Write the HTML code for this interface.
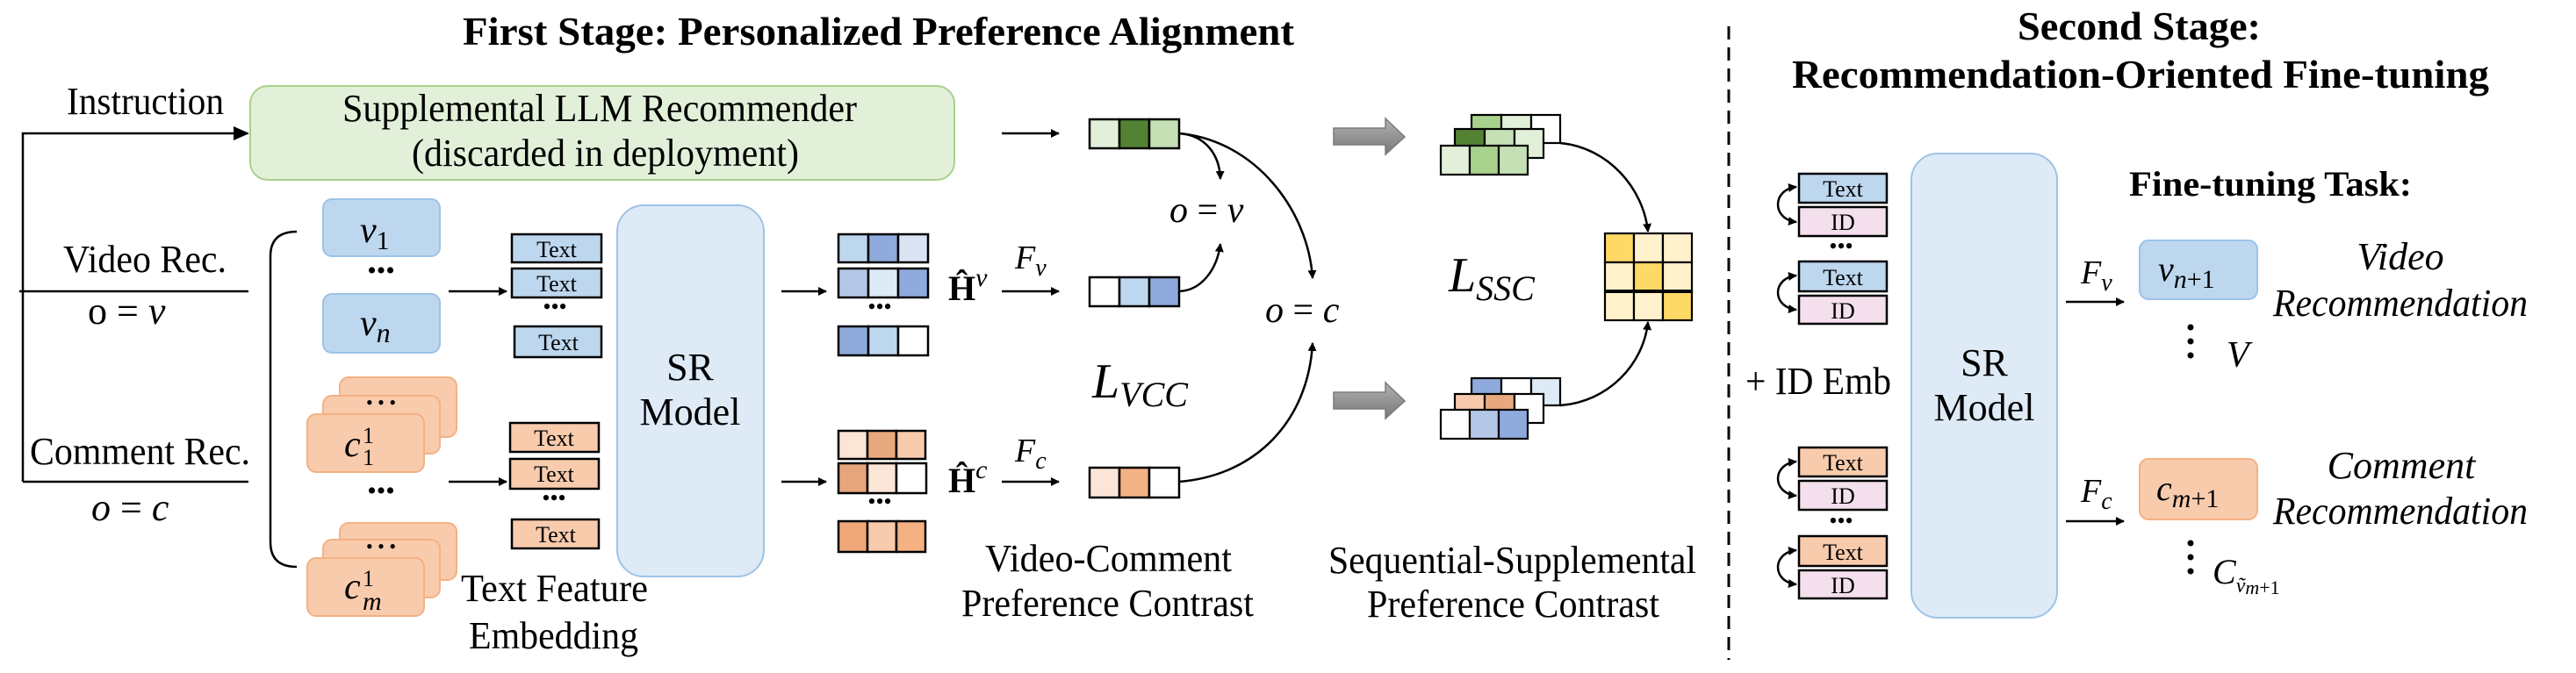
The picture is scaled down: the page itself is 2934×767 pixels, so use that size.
<!DOCTYPE html>
<html><head><meta charset="utf-8"><style>
html,body{margin:0;padding:0;background:#fff;}
svg{display:block;}
svg, text, tspan{font-family:"Liberation Serif","Times New Roman","Noto Serif CJK SC","DejaVu Serif",serif;}
text{fill:#000;}
.it{font-style:italic;}
.b{font-weight:bold;}
</style></head><body>
<svg width="2934" height="767" viewBox="0 0 2934 767" xmlns="http://www.w3.org/2000/svg" font-family="Liberation Serif, Times New Roman, Noto Serif CJK SC, DejaVu Serif, serif">
<defs>
<marker id="ah" markerWidth="10" markerHeight="10" refX="9" refY="5" orient="auto-start-reverse" markerUnits="userSpaceOnUse" viewBox="0 0 10 10">
<path d="M0,0 L10,5 L0,10 z" fill="#000"/></marker>
<marker id="ah2" markerWidth="18" markerHeight="18" refX="16" refY="9" orient="auto-start-reverse" markerUnits="userSpaceOnUse" viewBox="0 0 18 18">
<path d="M0,1 L18,9 L0,17 z" fill="#000"/></marker>
<linearGradient id="gg" x1="0" y1="0" x2="0" y2="1"><stop offset="0" stop-color="#b0b0b0"/><stop offset="1" stop-color="#7a7a7a"/></linearGradient>
</defs>

<text x="527" y="51" class="b" font-size="46" textLength="947" lengthAdjust="spacingAndGlyphs">First Stage: Personalized Preference Alignment</text>
<text x="2298" y="45" class="b" font-size="46" textLength="277" lengthAdjust="spacingAndGlyphs">Second Stage:</text>
<text x="2041" y="100" class="b" font-size="46" textLength="794" lengthAdjust="spacingAndGlyphs">Recommendation-Oriented Fine-tuning</text>

<line x1="1969" y1="30" x2="1969" y2="752" stroke="#000" stroke-width="3" stroke-dasharray="15,9"/>

<text x="76" y="130" font-size="44" textLength="179" lengthAdjust="spacingAndGlyphs">Instruction</text>
<polyline points="26,549 26,152 282,152" fill="none" stroke="#000" stroke-width="2.5" marker-end="url(#ah2)"/>
<text x="72" y="310" font-size="44" textLength="186" lengthAdjust="spacingAndGlyphs">Video Rec.</text>
<line x1="22" y1="332" x2="283" y2="332" stroke="#000" stroke-width="2.5"/>
<text x="100" y="369" font-size="44">o = <tspan class="it">v</tspan></text>
<text x="34" y="529" font-size="44" textLength="251" lengthAdjust="spacingAndGlyphs">Comment Rec.</text>
<line x1="26" y1="549" x2="283" y2="549" stroke="#000" stroke-width="2.5"/>
<text x="104" y="593" font-size="44" class="it">o <tspan font-style="normal">=</tspan> c</text>

<rect x="285" y="98" width="802" height="107" rx="20" fill="#e2f0d9" stroke="#a9d18e" stroke-width="2"/>
<text x="390" y="138" font-size="44" textLength="586" lengthAdjust="spacingAndGlyphs">Supplemental LLM Recommender</text>
<text x="469" y="189" font-size="44" textLength="441" lengthAdjust="spacingAndGlyphs">(discarded in deployment)</text>

<path d="M338,264 Q308,264 308,292 L308,618 Q308,646 338,646" fill="none" stroke="#000" stroke-width="2.5"/>

<rect x="368" y="227" width="133" height="65" rx="10" fill="#bdd7ee" stroke="#9dc3e6" stroke-width="2"/>
<text x="410" y="276" font-size="42" class="it">v<tspan font-style="normal" font-size="30" dy="8">1</tspan></text>
<text x="434" y="318" font-size="30" text-anchor="middle">•••</text>
<rect x="368" y="335" width="133" height="67" rx="10" fill="#bdd7ee" stroke="#9dc3e6" stroke-width="2"/>
<text x="410" y="382" font-size="42" class="it">v<tspan font-size="32" dy="8">n</tspan></text>

<rect x="387" y="430" width="133" height="68" rx="10" fill="#f8cbad" stroke="#f4b183" stroke-width="2"/>
<rect x="368" y="451" width="133" height="66" rx="10" fill="#f8cbad" stroke="#f4b183" stroke-width="2"/>
<text x="434" y="466" font-size="22" text-anchor="middle">• • •</text>
<rect x="350" y="472" width="133" height="66" rx="10" fill="#f8cbad" stroke="#f4b183" stroke-width="2"/>
<text x="392" y="520" font-size="42" class="it">c</text><text x="413" y="505" font-size="26">1</text><text x="413" y="530" font-size="26">1</text>
<text x="434" y="569" font-size="30" text-anchor="middle">•••</text>
<rect x="387" y="596" width="133" height="65" rx="10" fill="#f8cbad" stroke="#f4b183" stroke-width="2"/>
<rect x="368" y="615" width="133" height="66" rx="10" fill="#f8cbad" stroke="#f4b183" stroke-width="2"/>
<text x="434" y="630" font-size="22" text-anchor="middle">• • •</text>
<rect x="350" y="636" width="133" height="66" rx="10" fill="#f8cbad" stroke="#f4b183" stroke-width="2"/>
<text x="392" y="682" font-size="42" class="it">c</text><text x="413" y="668" font-size="26">1</text><text x="413" y="695" font-size="30" class="it">m</text>

<line x1="511" y1="332" x2="577" y2="332" stroke="#000" stroke-width="2.5" marker-end="url(#ah)"/>
<line x1="511" y1="549" x2="577" y2="549" stroke="#000" stroke-width="2.5" marker-end="url(#ah)"/>

<g stroke="#000" stroke-width="2.5" fill="#bdd7ee">
<rect x="583" y="267" width="102" height="32"/>
<rect x="583" y="306" width="102" height="33"/>
<rect x="586" y="372" width="99" height="35"/>
</g>
<g font-size="26" text-anchor="middle">
<text x="634" y="293">Text</text><text x="634" y="332">Text</text><text x="636" y="399">Text</text>
</g>
<text x="632" y="358" font-size="26" text-anchor="middle">•••</text>
<g stroke="#000" stroke-width="2.5" fill="#f8cbad">
<rect x="581" y="482" width="101" height="33"/>
<rect x="581" y="523" width="101" height="34"/>
<rect x="583" y="592" width="99" height="33"/>
</g>
<g font-size="26" text-anchor="middle">
<text x="631" y="508">Text</text><text x="631" y="549">Text</text><text x="633" y="618">Text</text>
</g>
<text x="631" y="576" font-size="26" text-anchor="middle">•••</text>
<text x="525" y="685" font-size="44" textLength="213" lengthAdjust="spacingAndGlyphs">Text Feature</text>
<text x="534" y="739" font-size="44" textLength="193" lengthAdjust="spacingAndGlyphs">Embedding</text>

<rect x="703" y="234" width="167" height="423" rx="30" fill="#deebf7" stroke="#9dc3e6" stroke-width="2"/>
<text x="786" y="433" font-size="44" text-anchor="middle">SR</text>
<text x="786" y="484" font-size="44" text-anchor="middle">Model</text>

<line x1="890" y1="332" x2="941" y2="332" stroke="#000" stroke-width="2.5" marker-end="url(#ah)"/>
<line x1="890" y1="549" x2="941" y2="549" stroke="#000" stroke-width="2.5" marker-end="url(#ah)"/>

<g stroke="#000" stroke-width="2.5">
<rect x="955" y="267" width="34" height="32" fill="#bdd7ee"/><rect x="989" y="267" width="34" height="32" fill="#8faadc"/><rect x="1023" y="267" width="34" height="32" fill="#dae3f3"/>
<rect x="955" y="306" width="34" height="33" fill="#b4c7e7"/><rect x="989" y="306" width="34" height="33" fill="#deebf7"/><rect x="1023" y="306" width="34" height="33" fill="#8faadc"/>
<rect x="955" y="372" width="34" height="33" fill="#8faadc"/><rect x="989" y="372" width="34" height="33" fill="#bdd7ee"/><rect x="1023" y="372" width="34" height="33" fill="#fff"/>
<rect x="955" y="491" width="33" height="32" fill="#fbe5d6"/><rect x="988" y="491" width="33" height="32" fill="#e9a97f"/><rect x="1021" y="491" width="33" height="32" fill="#f8cbad"/>
<rect x="955" y="528" width="33" height="34" fill="#e6a57b"/><rect x="988" y="528" width="33" height="34" fill="#fbe5d6"/><rect x="1021" y="528" width="34" height="34" fill="#fff"/>
<rect x="955" y="594" width="33" height="35" fill="#f0a878"/><rect x="988" y="594" width="33" height="35" fill="#f8cbad"/><rect x="1021" y="594" width="33" height="35" fill="#f4b183"/>
</g>
<text x="1002" y="358" font-size="26" text-anchor="middle">•••</text>
<text x="1002" y="580" font-size="26" text-anchor="middle">•••</text>

<text x="1080" y="342" font-size="40" class="b">Ĥ<tspan font-weight="normal" class="it" font-size="30" dy="-16">v</tspan></text>
<text x="1080" y="561" font-size="40" class="b">Ĥ<tspan font-weight="normal" class="it" font-size="30" dy="-16">c</tspan></text>
<text x="1156" y="306" font-size="38" class="it">F<tspan font-size="28" dy="8">v</tspan></text>
<text x="1156" y="526" font-size="38" class="it">F<tspan font-size="28" dy="8">c</tspan></text>
<line x1="1141" y1="332" x2="1206" y2="332" stroke="#000" stroke-width="2.5" marker-end="url(#ah)"/>
<line x1="1141" y1="549" x2="1206" y2="549" stroke="#000" stroke-width="2.5" marker-end="url(#ah)"/>
<line x1="1141" y1="152" x2="1206" y2="152" stroke="#000" stroke-width="2.5" marker-end="url(#ah)"/>

<g stroke="#000" stroke-width="2.5">
<rect x="1241" y="136" width="34" height="33" fill="#e2f0d9"/><rect x="1275" y="136" width="34" height="33" fill="#548235"/><rect x="1309" y="136" width="34" height="33" fill="#c5e0b4"/>
<rect x="1241" y="316" width="34" height="33" fill="#fff"/><rect x="1275" y="316" width="34" height="33" fill="#bdd7ee"/><rect x="1309" y="316" width="34" height="33" fill="#8faadc"/>
<rect x="1241" y="533" width="34" height="34" fill="#fbe5d6"/><rect x="1275" y="533" width="34" height="34" fill="#f4b183"/><rect x="1309" y="533" width="34" height="34" fill="#fff"/>
</g>

<g fill="none" stroke="#000" stroke-width="2.5">
<path d="M1343,152 C1372,154 1389,175 1390,204" marker-end="url(#ah)"/>
<path d="M1343,152 C1430,160 1490,240 1495,317" marker-end="url(#ah)"/>
<path d="M1343,332 C1368,331 1386,308 1390,278" marker-end="url(#ah)"/>
<path d="M1343,549 C1430,542 1490,480 1495,391" marker-end="url(#ah)"/>
<path d="M1777,163 C1832,168 1872,215 1877,264" marker-end="url(#ah)"/>
<path d="M1777,462 C1832,458 1872,415 1877,367" marker-end="url(#ah)"/>
</g>
<text x="1332" y="253" font-size="42" class="it">o <tspan font-style="normal">=</tspan> v</text>
<text x="1441" y="367" font-size="42" class="it">o <tspan font-style="normal">=</tspan> c</text>
<text x="1244" y="453" font-size="56" class="it">L<tspan font-size="40" dy="10">VCC</tspan></text>
<text x="1122" y="651" font-size="44" textLength="281" lengthAdjust="spacingAndGlyphs">Video-Comment</text>
<text x="1095" y="702" font-size="44" textLength="333" lengthAdjust="spacingAndGlyphs">Preference Contrast</text>

<polygon points="1519,146 1578,146 1578,135 1600,156 1578,176 1578,165 1519,165" fill="url(#gg)" stroke="#7a7a7a" stroke-width="1.5"/>
<polygon points="1519,447 1578,447 1578,436 1600,457 1578,477 1578,466 1519,466" fill="url(#gg)" stroke="#7a7a7a" stroke-width="1.5"/>

<g stroke="#000" stroke-width="2.2">
<rect x="1676" y="131" width="34" height="32" fill="#a9d18e"/><rect x="1710" y="131" width="34" height="32" fill="#e2f0d9"/><rect x="1744" y="131" width="33" height="32" fill="#fff"/>
<rect x="1657" y="147" width="34" height="33" fill="#548235"/><rect x="1691" y="147" width="34" height="33" fill="#c5e0b4"/><rect x="1725" y="147" width="33" height="33" fill="#e2f0d9"/>
<rect x="1641" y="166" width="33" height="33" fill="#e2f0d9"/><rect x="1674" y="166" width="33" height="33" fill="#a9d18e"/><rect x="1707" y="166" width="33" height="33" fill="#c5e0b4"/>
<rect x="1676" y="431" width="34" height="31" fill="#8faadc"/><rect x="1710" y="431" width="34" height="31" fill="#fff"/><rect x="1744" y="431" width="33" height="31" fill="#deebf7"/>
<rect x="1657" y="449" width="34" height="33" fill="#f8cbad"/><rect x="1691" y="449" width="34" height="33" fill="#e9a97f"/><rect x="1725" y="449" width="33" height="33" fill="#fff"/>
<rect x="1641" y="467" width="33" height="33" fill="#fff"/><rect x="1674" y="467" width="33" height="33" fill="#b4c7e7"/><rect x="1707" y="467" width="33" height="33" fill="#8faadc"/>
</g>

<g stroke="#000" stroke-width="2.2">
<rect x="1828" y="266" width="33" height="33" fill="#ffd966"/><rect x="1861" y="266" width="33" height="33" fill="#fff2cc"/><rect x="1894" y="266" width="33" height="33" fill="#fff2cc"/>
<rect x="1828" y="299" width="33" height="33" fill="#fff2cc"/><rect x="1861" y="299" width="33" height="33" fill="#ffd966"/><rect x="1894" y="299" width="33" height="33" fill="#fff2cc"/>
<rect x="1828" y="332" width="33" height="33" fill="#fff2cc"/><rect x="1861" y="332" width="33" height="33" fill="#fff2cc"/><rect x="1894" y="332" width="33" height="33" fill="#ffd966"/>
</g>
<line x1="1828" y1="332" x2="1927" y2="332" stroke="#000" stroke-width="4"/>
<text x="1650" y="332" font-size="56" class="it">L<tspan font-size="40" dy="10">SSC</tspan></text>
<text x="1513" y="653" font-size="44" textLength="419" lengthAdjust="spacingAndGlyphs">Sequential-Supplemental</text>
<text x="1557" y="703" font-size="44" textLength="333" lengthAdjust="spacingAndGlyphs">Preference Contrast</text>

<g stroke="#000" stroke-width="2.5">
<rect x="2049" y="198" width="100" height="33" fill="#bdd7ee"/>
<rect x="2049" y="236" width="100" height="33" fill="#f3e0ec"/>
<rect x="2049" y="298" width="100" height="34" fill="#bdd7ee"/>
<rect x="2049" y="337" width="100" height="32" fill="#f3e0ec"/>
<rect x="2049" y="510" width="100" height="33" fill="#f8cbad"/>
<rect x="2049" y="548" width="100" height="33" fill="#f3e0ec"/>
<rect x="2049" y="611" width="100" height="34" fill="#f8cbad"/>
<rect x="2049" y="650" width="100" height="32" fill="#f3e0ec"/>
</g>
<g font-size="26" text-anchor="middle">
<text x="2099" y="224">Text</text><text x="2099" y="262">ID</text>
<text x="2099" y="325">Text</text><text x="2099" y="363">ID</text>
<text x="2099" y="536">Text</text><text x="2099" y="574">ID</text>
<text x="2099" y="638">Text</text><text x="2099" y="676">ID</text>
</g>
<text x="2097" y="289" font-size="26" text-anchor="middle">•••</text>
<text x="2097" y="602" font-size="26" text-anchor="middle">•••</text>
<g fill="none" stroke="#000" stroke-width="2.5">
<path d="M2046,213 C2018,216 2018,250 2046,253" marker-start="url(#ah)" marker-end="url(#ah)"/>
<path d="M2046,314 C2018,317 2018,350 2046,353" marker-start="url(#ah)" marker-end="url(#ah)"/>
<path d="M2046,526 C2018,529 2018,562 2046,565" marker-start="url(#ah)" marker-end="url(#ah)"/>
<path d="M2046,627 C2018,630 2018,663 2046,666" marker-start="url(#ah)" marker-end="url(#ah)"/>
</g>
<text x="1988" y="449" font-size="44" textLength="166" lengthAdjust="spacingAndGlyphs">+ ID Emb</text>

<rect x="2177" y="175" width="166" height="529" rx="30" fill="#deebf7" stroke="#9dc3e6" stroke-width="2"/>
<text x="2260" y="428" font-size="44" text-anchor="middle">SR</text>
<text x="2260" y="479" font-size="44" text-anchor="middle">Model</text>

<text x="2425" y="223" font-size="40" class="b" textLength="322" lengthAdjust="spacingAndGlyphs">Fine-tuning Task:</text>
<line x1="2353" y1="344" x2="2419" y2="344" stroke="#000" stroke-width="2.5" marker-end="url(#ah)"/>
<line x1="2353" y1="594" x2="2419" y2="594" stroke="#000" stroke-width="2.5" marker-end="url(#ah)"/>
<text x="2370" y="323" font-size="38" class="it">F<tspan font-size="28" dy="8">v</tspan></text>
<text x="2370" y="572" font-size="38" class="it">F<tspan font-size="28" dy="8">c</tspan></text>
<rect x="2437" y="274" width="134" height="67" rx="10" fill="#bdd7ee" stroke="#9dc3e6" stroke-width="2"/>
<text x="2458" y="320" font-size="40" class="it">v<tspan font-size="30" dy="8">n</tspan><tspan font-size="30" font-style="normal">+1</tspan></text>
<rect x="2437" y="523" width="134" height="69" rx="10" fill="#f8cbad" stroke="#f4b183" stroke-width="2"/>
<text x="2456" y="570" font-size="40" class="it">c<tspan font-size="30" dy="8">m</tspan><tspan font-size="30" font-style="normal">+1</tspan></text>
<g fill="#000">
<circle cx="2495" cy="373" r="3.5"/><circle cx="2495" cy="389" r="3.5"/><circle cx="2495" cy="405" r="3.5"/>
<circle cx="2495" cy="619" r="3.5"/><circle cx="2495" cy="635" r="3.5"/><circle cx="2495" cy="651" r="3.5"/>
</g>
<text x="2536" y="418" font-size="42" class="it">V</text>
<text x="2520" y="665" font-size="40" class="it">C<tspan font-size="24" dy="10">ṽ</tspan><tspan font-size="22" dy="2">m</tspan><tspan font-size="22" font-style="normal">+1</tspan></text>
<text x="2734" y="307" font-size="44" class="it" text-anchor="middle">Video</text>
<text x="2589" y="360" font-size="44" class="it" textLength="290" lengthAdjust="spacingAndGlyphs">Recommendation</text>
<text x="2735" y="545" font-size="44" class="it" text-anchor="middle">Comment</text>
<text x="2589" y="597" font-size="44" class="it" textLength="290" lengthAdjust="spacingAndGlyphs">Recommendation</text>
</svg>
</body></html>
